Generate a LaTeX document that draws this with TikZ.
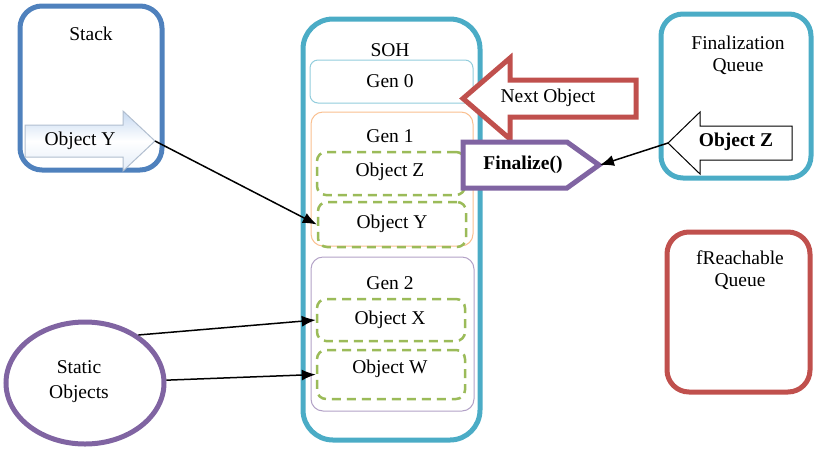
\documentclass[tikz,border=0pt]{standalone}
\usepackage{fontspec}
\setmainfont{Liberation Serif}
\usetikzlibrary{arrows.meta,shapes.geometric}
\definecolor{stackblue}{HTML}{4F81BD}
\definecolor{sohteal}{HTML}{4BACC6}
\definecolor{gen0c}{HTML}{92CDDC}
\definecolor{gen1c}{HTML}{FAC090}
\definecolor{gen2c}{HTML}{B3A2C7}
\definecolor{objgreen}{HTML}{9BBB59}
\definecolor{redc}{HTML}{C0504D}
\definecolor{purp}{HTML}{8064A2}
\definecolor{lightblue}{HTML}{C6D9F1}
\begin{document}
\begin{tikzpicture}[x=1pt,y=-1pt,
  font=\fontsize{19.5}{22}\selectfont,
  bigbox/.style={draw=#1, line width=5pt, rounded corners=22pt, inner sep=0pt},
  genbox/.style={draw=#1, line width=1pt, rounded corners=12pt, inner sep=0pt, fill=white},
  objbox/.style={draw=objgreen, line width=2.5pt, dash pattern=on 9pt off 6pt, rounded corners=9pt, inner sep=0pt, minimum width=148pt},
  txt/.style={inner sep=0pt, align=center},
  conn/.style={line width=1.5pt, -{Latex[length=14pt,width=11pt]}}
]
\useasboundingbox (0,0) rectangle (816,448);

% Stack
\node[bigbox=stackblue, minimum width=142pt, minimum height=164pt] (stack) at (91,88) {};
\node[txt] (stacklbl) at (91,34) {Stack};
\draw[draw=lightblue!70!gray, line width=1pt, top color=lightblue, bottom color=lightblue!50!white, middle color=white]
  (25,125) -- (123,125) -- (123,111) -- (155,141) -- (123,171) -- (123,157) -- (25,157) -- cycle;
\coordinate (objYtip) at (155,141);
\node[txt] (objYlbl) at (80,141) {Object Y};

% SOH
\node[bigbox=sohteal, rounded corners=30pt, minimum width=177pt, minimum height=421pt] (soh) at (391.5,229.5) {};
\node[txt] (sohlbl) at (390,50) {SOH};
\node[genbox=gen0c, rounded corners=8pt, minimum width=163pt, minimum height=43pt] (gen0) at (391.5,81.5) {};
\node[txt] (gen0lbl) at (390,81) {Gen 0};
\node[genbox=gen1c, minimum width=162pt, minimum height=134pt] (gen1) at (392,179) {};
\node[txt] (gen1lbl) at (390,136) {Gen 1};
\node[objbox, minimum height=43pt] (objZ) at (391,173.5) {};
\node[txt] (objZlbl) at (390,172) {Object Z};
\node[objbox, minimum height=45pt] (objY) at (392,224.5) {};
\node[txt] (objYbl) at (392,224) {Object Y};
\node[genbox=gen2c, minimum width=163pt, minimum height=154pt] (gen2) at (392.5,334) {};
\node[txt] (gen2lbl) at (390,283) {Gen 2};
\node[objbox, minimum height=42pt] (objX) at (391,320) {};
\node[txt] (objXlbl) at (390,320) {Object X};
\node[objbox, minimum height=49pt] (objW) at (391,374.5) {};
\node[txt] (objWlbl) at (390,369) {Object W};

% Next Object arrow
\draw[draw=redc, line width=5pt, fill=white, line join=miter]
  (636,80) -- (510,80) -- (510,58) -- (463,98.5) -- (510,139) -- (510,117) -- (636,117) -- cycle;
\node[txt] (nextlbl) at (548,98) {Next Object};

% Finalize pentagon
\draw[draw=purp, line width=5pt, fill=white, line join=miter]
  (463,142) -- (567,142) -- (599,165) -- (567,188) -- (463,188) -- cycle;
\coordinate (fintip) at (600,165);
\node[txt, font=\fontsize{19.5}{22}\selectfont\bfseries] (finlbl) at (523,165) {Finalize()};

% Finalization Queue
\node[bigbox=sohteal, minimum width=150pt, minimum height=164pt] (fq) at (736,96) {};
\node[txt, font=\fontsize{19.5}{22}\selectfont] (fqlbl) at (738,55) {Finalization\\Queue};
\draw[draw=black, line width=1pt, fill=white]
  (792,126) -- (700,126) -- (700,112) -- (668,143) -- (700,174) -- (700,160) -- (792,160) -- cycle;
\coordinate (objZtip) at (668,143);
\node[txt, font=\fontsize{19.5}{22}\selectfont\bfseries] (objZqlbl) at (736,142) {Object Z};

% fReachable Queue
\node[bigbox=redc, minimum width=143pt, minimum height=160pt] (fr) at (738.5,312) {};
\node[txt, font=\fontsize{19.5}{22}\selectfont] (frlbl) at (740,270) {fReachable\\Queue};

% Static Objects
\node[ellipse, draw=purp, line width=5pt, minimum width=158pt, minimum height=122pt, inner sep=0pt] (static) at (85,383) {};
\node[txt, font=\fontsize{19.5}{25}\selectfont] (staticlbl) at (79,382) {Static\\Objects};

% connectors
\draw[conn] (objYtip) -- (objY.west);
\draw[conn] (objZtip) -- (fintip);
\draw[conn] (static.42) -- (objX.west);
\draw[conn] (static.2) -- (objW.west);
\end{tikzpicture}
\end{document}
